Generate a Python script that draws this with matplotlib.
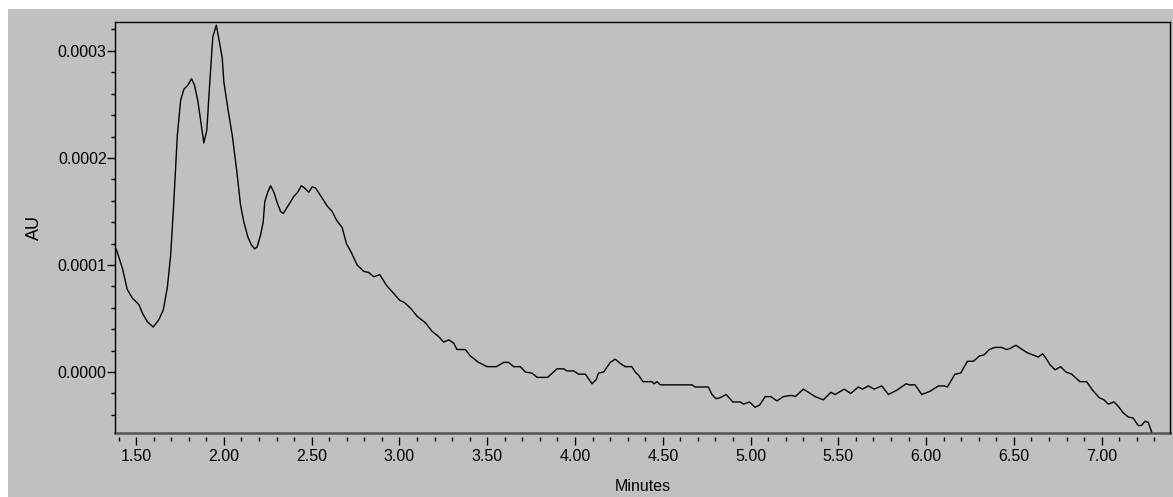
import matplotlib
matplotlib.use('Agg')
import matplotlib.pyplot as plt
from matplotlib.patches import Rectangle
from matplotlib.ticker import MultipleLocator, FormatStrFormatter

# Retention time (minutes) and absorbance (units of 1e-4 AU)
minutes = [
    1.380, 1.389, 1.422, 1.450, 1.479, 1.516, 1.536, 1.564, 1.598, 1.630, 1.655,
    1.678, 1.697, 1.715, 1.735, 1.754, 1.772, 1.795, 1.816, 1.833, 1.852, 1.871,
    1.886, 1.903, 1.920, 1.937, 1.957, 1.974, 1.991, 2.000, 2.023, 2.048, 2.072,
    2.095, 2.114, 2.137, 2.156, 2.175, 2.190, 2.209, 2.224, 2.233, 2.250, 2.266,
    2.285, 2.304, 2.323, 2.338, 2.357, 2.380, 2.398, 2.421, 2.441, 2.459, 2.484,
    2.503, 2.522, 2.550, 2.589, 2.617, 2.641, 2.674, 2.698, 2.725, 2.759, 2.797,
    2.825, 2.854, 2.888, 2.926, 2.964, 3.002, 3.028, 3.067, 3.101, 3.148, 3.186,
    3.224, 3.252, 3.281, 3.309, 3.328, 3.376, 3.404, 3.451, 3.499, 3.552, 3.594,
    3.622, 3.651, 3.689, 3.717, 3.755, 3.784, 3.844, 3.898, 3.935, 3.955, 3.992,
    4.021, 4.059, 4.097, 4.121, 4.134, 4.163, 4.201, 4.229, 4.258, 4.286, 4.324,
    4.343, 4.362, 4.387, 4.438, 4.451, 4.467, 4.486, 4.666, 4.685, 4.760, 4.780,
    4.804, 4.827, 4.861, 4.899, 4.941, 4.960, 4.994, 5.026, 5.051, 5.083, 5.116,
    5.150, 5.187, 5.225, 5.241, 5.254, 5.301, 5.368, 5.415, 5.457, 5.482, 5.533,
    5.571, 5.614, 5.637, 5.671, 5.704, 5.747, 5.785, 5.833, 5.886, 5.904, 5.937,
    5.975, 6.022, 6.070, 6.104, 6.121, 6.164, 6.197, 6.235, 6.269, 6.303, 6.330,
    6.360, 6.392, 6.430, 6.459, 6.478, 6.512, 6.538, 6.576, 6.607, 6.639, 6.664,
    6.682, 6.705, 6.734, 6.766, 6.796, 6.829, 6.876, 6.914, 6.948, 6.986, 7.013,
    7.037, 7.070, 7.094, 7.122, 7.151, 7.179, 7.208, 7.227, 7.246, 7.265, 7.293,
]
au_e4 = [
    1.16, 1.14, 0.97, 0.77, 0.69, 0.63, 0.55, 0.47, 0.42, 0.49, 0.58,
    0.79, 1.09, 1.59, 2.21, 2.54, 2.64, 2.68, 2.74, 2.68, 2.53, 2.31,
    2.14, 2.26, 2.71, 3.13, 3.24, 3.09, 2.93, 2.71, 2.46, 2.21, 1.90,
    1.56, 1.40, 1.26, 1.19, 1.15, 1.17, 1.28, 1.40, 1.59, 1.68, 1.74,
    1.68, 1.58, 1.50, 1.48, 1.53, 1.59, 1.64, 1.68, 1.74, 1.72, 1.68,
    1.73, 1.72, 1.65, 1.55, 1.50, 1.42, 1.35, 1.20, 1.12, 1.00, 0.94,
    0.93, 0.89, 0.91, 0.81, 0.74, 0.67, 0.65, 0.59, 0.52, 0.46, 0.38,
    0.33, 0.28, 0.30, 0.27, 0.21, 0.21, 0.15, 0.09, 0.05, 0.05, 0.09,
    0.09, 0.05, 0.05, 0.00, -0.01, -0.05, -0.05, 0.03, 0.03, 0.01, 0.01,
    -0.02, -0.02, -0.11, -0.07, -0.01, 0.00, 0.09, 0.12, 0.08, 0.05, 0.05,
    0.00, -0.03, -0.09, -0.09, -0.11, -0.09, -0.12, -0.12, -0.14, -0.14, -0.21,
    -0.25, -0.24, -0.21, -0.28, -0.28, -0.30, -0.28, -0.33, -0.31, -0.23, -0.23,
    -0.27, -0.23, -0.22, -0.22, -0.23, -0.16, -0.23, -0.26, -0.19, -0.21, -0.16,
    -0.20, -0.14, -0.16, -0.13, -0.16, -0.13, -0.21, -0.17, -0.11, -0.12, -0.12,
    -0.21, -0.18, -0.13, -0.13, -0.14, -0.02, -0.01, 0.10, 0.10, 0.15, 0.16,
    0.21, 0.23, 0.23, 0.21, 0.22, 0.25, 0.22, 0.18, 0.16, 0.14, 0.17,
    0.13, 0.07, 0.02, 0.05, 0.00, -0.02, -0.09, -0.09, -0.17, -0.24, -0.26,
    -0.30, -0.28, -0.32, -0.38, -0.42, -0.43, -0.50, -0.50, -0.46, -0.47, -0.60,
]
au = [v * 1e-4 for v in au_e4]

x_range = (1.38, 7.389)
y_range = (-0.0000567, 0.000327)

plt.rcParams['font.family'] = ['Liberation Sans', 'DejaVu Sans']
plt.rcParams['font.size'] = 11.5

W, H = 1173, 497
fig = plt.figure(figsize=(W / 100, H / 100), dpi=100, facecolor='white')
# grey panel behind everything, leaving a thin white margin top and left
fig.patches.append(Rectangle((8 / W, 0), 1, 1 - 9 / H, transform=fig.transFigure,
                             facecolor='#c0c0c0', edgecolor='none', zorder=-1))

ax = fig.add_axes([115 / W, 1 - 432.7 / H, (1170 - 115) / W, (432.7 - 22) / H])
ax.set_facecolor('#c0c0c0')
ax.plot(minutes, au, color='black', lw=1.0)
ax.set_xlim(*x_range)
ax.set_ylim(*y_range)

ax.xaxis.set_major_locator(MultipleLocator(0.5))
ax.xaxis.set_minor_locator(MultipleLocator(0.1))
ax.xaxis.set_major_formatter(FormatStrFormatter('%.2f'))
ax.yaxis.set_major_locator(MultipleLocator(0.0001))
ax.yaxis.set_minor_locator(MultipleLocator(0.00002))
ax.yaxis.set_major_formatter(FormatStrFormatter('%.4f'))

ax.tick_params(axis='y', which='major', direction='out', length=6, width=1, pad=0)
ax.tick_params(axis='y', which='minor', direction='out', length=3, width=1)
ax.tick_params(axis='x', which='major', direction='out', length=6, width=1, pad=3)
ax.tick_params(axis='x', which='minor', direction='out', length=3, width=1)

for side in ['left', 'top', 'right']:
    ax.spines[side].set_color('black')
    ax.spines[side].set_linewidth(1.0)
# x ticks sit a little below the frame line
ax.spines['bottom'].set_position(('outward', 3))
ax.spines['bottom'].set_visible(False)
ax.plot([0, 1], [0, 0], transform=ax.transAxes, color='#555555', lw=1.8, clip_on=False)

ax.set_xlabel('Minutes')
ax.xaxis.set_label_coords(0.5, -0.132)
ax.xaxis.label.set_va('center')
ax.set_ylabel('AU', fontsize=13)
ax.yaxis.set_label_coords(-0.076, 0.5)
ax.yaxis.label.set_va('center')

fig.savefig('out.png', dpi=100, facecolor=fig.get_facecolor())
